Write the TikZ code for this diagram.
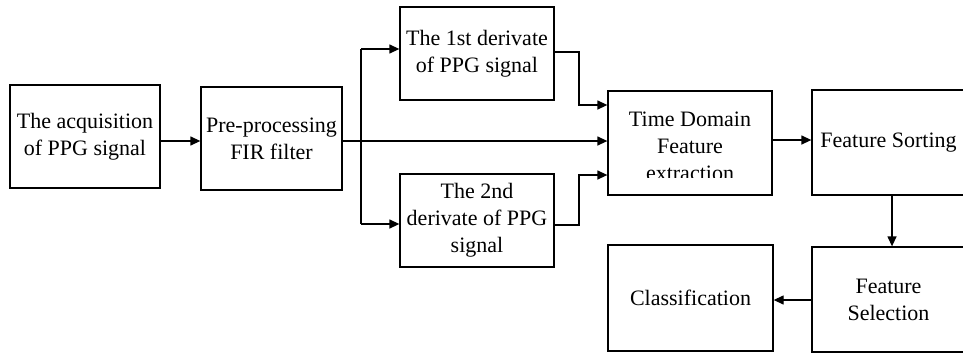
\documentclass[tikz,border=0pt]{standalone}
\usepackage{fontspec}
\setmainfont{Liberation Serif}
\usetikzlibrary{arrows.meta}
\tikzset{
  box/.style={draw, line width=1.3pt, inner sep=0pt, align=center,
    font=\fontsize{22}{27}\selectfont},
  txt/.style={inner sep=0pt, align=center, font=\fontsize{22}{27}\selectfont},
  conn/.style={line width=1.3pt, -{Triangle[length=10pt,width=9pt]}},
  wire/.style={line width=1.3pt}
}
\begin{document}
\begin{tikzpicture}[x=1pt,y=-1pt]
\clip (0,0) rectangle (963,354);
\fill[white] (0,0) rectangle (963,354);

\node[box, minimum width=150pt, minimum height=103pt] (A) at (85,136.5) {The acquisition\\of PPG signal};
\node[box, minimum width=141pt, minimum height=103pt] (B) at (271.5,138.5) {Pre-processing\\FIR filter};
\node[box, minimum width=154pt, minimum height=93pt] (C1) at (477,53.5) {The 1st derivate\\of PPG signal};
\node[box, minimum width=154pt, minimum height=93pt] (C2) at (477,220.5) {The 2nd\\derivate of PPG\\signal};
\node[box, minimum width=164pt, minimum height=104pt] (D) at (690,143) {};
\begin{scope}
  \clip (608,91) rectangle (772,177.5);
  \node[txt] (Dt) at (690,146) {Time Domain\\Feature\\extraction};
\end{scope}
\node[box, minimum width=153pt, minimum height=105pt] (E) at (888.5,142.5) {Feature Sorting};
\node[box, minimum width=153pt, minimum height=105pt] (F) at (888.5,299.5) {Feature\\Selection};
\node[box, minimum width=165pt, minimum height=106pt] (G) at (690.5,298) {Classification};

\coordinate (s) at (361,141);
\coordinate (su) at (361,49);
\coordinate (sd) at (361,224);
\coordinate (k1) at (579,52);
\coordinate (k2) at (579,225);

\draw[conn] (A.east |- 0,141) -- (B.west |- 0,141);
\draw[conn] (B.east |- s) -- (D.west |- s);
\draw[wire] (su) -- (sd);
\draw[conn] (su) -- (C1.west |- su);
\draw[conn] (sd) -- (C2.west |- sd);
\draw[conn] (C1.east |- k1) -- (k1) -- (579,105) -- (D.west |- 0,105);
\draw[conn] (C2.east |- k2) -- (k2) -- (579,175) -- (D.west |- 0,175);
\draw[conn] (D.east |- 0,140) -- (E.west |- 0,140);
\draw[conn] (E.south -| 892,0) -- (F.north -| 892,0);
\draw[conn] (F.west |- 0,300) -- (G.east |- 0,300);
\end{tikzpicture}
\end{document}
